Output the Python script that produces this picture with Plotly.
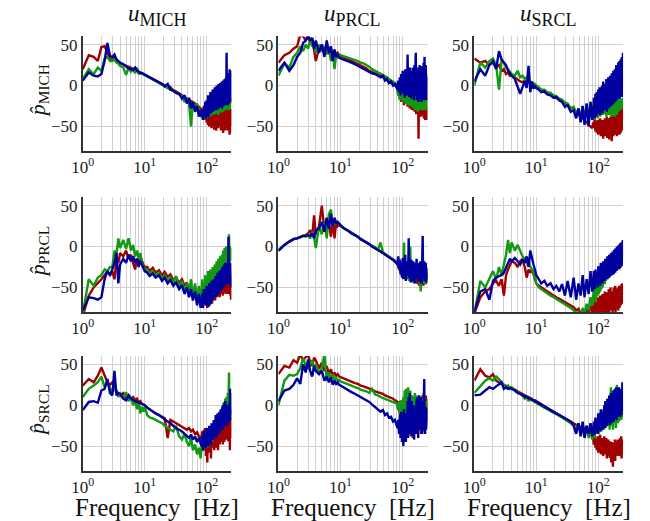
import plotly.graph_objects as go

# frequency grid [Hz]
freq = [1.0, 1.25, 1.5, 1.75, 2.0, 2.25, 2.5, 2.75, 3.0, 3.25, 3.5, 3.75, 4.0, 4.5, 5, 5.5, 6, 6.5, 7, 7.5, 8, 8.5, 9, 9.5, 10,
        11, 12, 13.5, 15, 17, 19, 21, 23.5, 26, 29, 32, 36, 40, 44, 48, 52, 56, 60, 65, 70, 75, 80,
        82.5, 85, 87.5, 90, 92.5, 95, 97.5, 100, 102.5, 105, 107.5, 110, 112.5, 115, 117.5, 120, 122.5,
        125, 127.5, 130, 132.5, 135, 137.5, 140, 142.5, 145, 147.5, 150, 152.5, 155, 157.5, 160, 162.5, 165,
        167.5, 170, 172.5, 175, 177.5, 180, 182.5, 185, 187.5, 190, 192.5, 195, 197.5, 200, 202.5, 205, 207.5,
        210, 212.5, 215, 217.5, 220, 222.5, 225, 227.5, 230, 232.5, 235, 237.5, 240, 242.5, 245, 247.5, 250]

row_labels = ["MICH", "PRCL", "SRCL"]
col_labels = ["MICH", "PRCL", "SRCL"]
x_tick_vals = [1, 10, 100]
x_tick_text = ["10<sup>0</sup>", "10<sup>1</sup>", "10<sup>2</sup>"]
x_minor_vals = [2, 3, 4, 5, 6, 7, 8, 9, 20, 30, 40, 50, 60, 70, 80, 90]
y_tick_vals = [-50, 0, 50]
y_tick_text = ["\u221250", "0", "50"]

# ---------------- row p_MICH ----------------
mich_mich_red = [20,37,35,30,47,48,40,33,31,35,32,28,27,26,24,23,22,20,19,20,17,16,15,15,14,
    12,10,8,6,4,2,0,-3,-2,-6,-7,-10,-12,-14,-16,-17,-19,-20,-22,-24,-26,-28,
    -30,-36,-28,-40,-32,-42,-30,-45,-34,-48,-32,-50,-36,-46,-30,-52,-38,
    -35,-50,-30,-54,-36,-48,-28,-55,-40,-45,-30,-52,-34,-50,-26,-48,-38,
    -32,-55,-28,-50,-36,-45,-24,-58,-34,-50,-22,-46,-40,-55,-30,-48,-25,
    -52,-35,-45,-22,-55,-32,-48,-28,-50,-36,-60,-30,-58,-40,-28,-50,-32]
mich_mich_green = [8,20,14,22,18,33,35,30,30,32,28,27,24,22,13,22,17,20,15,22,14,16,15,14,13,
    11,10,8,6,3,1,-1,-3,-4,-6,-8,-11,-13,-20,-15,-22,-50,-20,-28,-22,-30,-38,
    -35,-40,-30,-42,-28,-38,-32,-40,-26,-38,-30,-36,-24,-38,-28,-35,-22,
    -36,-26,-34,-20,-35,-28,-32,-18,-34,-24,-30,-20,-36,-22,-30,-18,-32,
    -25,-30,-16,-33,-22,-28,-18,-32,-20,-30,-15,-28,-24,-30,-16,-26,-20,
    -30,-14,-28,-22,-26,-12,-30,-18,-24,-15,-28,-20,-26,-14,-22,-18,-15]
mich_mich_blue = [6,16,12,11,14,30,52,36,35,38,32,30,28,26,23,21,20,19,22,18,17,15,15,14,14,
    12,10,8,6,4,2,-1,2,-5,-6,-9,-10,-16,-12,-22,-15,-28,-20,-32,-25,-38,-30,
    -38,-30,-42,-25,-36,-20,-40,-18,-35,-12,-38,-15,-30,-8,-34,-14,-28,
    -5,-32,-10,-28,-2,-30,-12,-25,0,-30,-8,-26,2,-28,-6,-22,3,
    -26,-4,-24,5,-28,-2,-20,6,-25,0,-22,8,-20,2,-24,10,-18,
    40,-20,12,-24,5,-16,15,-22,8,-18,20,-15,12,-20,18,-14,15]

mich_prcl_red = [28,37,40,45,48,62,60,55,60,52,58,40,30,45,50,42,48,38,45,40,42,38,40,37,36,
    34,33,31,30,28,26,24,22,21,18,17,15,13,12,10,9,7,5,4,3,0,-2,
    -5,-12,-2,-16,-4,-20,-3,-18,-8,-24,-6,-15,-10,-22,-5,-26,-8,
    -18,-6,-28,-10,-20,-8,-30,-12,-22,-6,-25,-14,-32,-10,-22,-16,-35,
    -12,-28,-18,-30,-14,-65,-20,-26,-12,-34,-16,-38,-20,-28,-15,-36,-22,
    -28,-18,-35,-22,-40,-20,-30,-25,-42,-22,-32,-26,-40,-24,-30,-42,-28]
mich_prcl_green = [12,27,22,35,40,48,42,50,45,55,48,52,40,50,42,48,38,46,30,42,20,38,35,38,37,
    36,35,34,33,31,30,28,27,25,23,20,18,16,14,13,11,10,8,6,5,3,2,
    -2,-12,0,-18,-4,-15,2,-20,-6,-12,-2,-22,-8,-14,-3,-24,-10,
    -18,-5,-25,-8,-20,-4,-26,-12,-18,-6,-28,-10,-22,-8,-30,-14,-20,
    -10,-26,-12,-32,-16,-22,-10,-30,-18,-24,-12,-28,-20,-25,-14,-30,-18,
    -22,-28,-15,-30,-20,-26,-12,-28,-22,-18,-30,-16,-25,-20,-18,-24,-15]
mich_prcl_blue = [18,28,18,25,35,40,52,55,62,55,58,45,55,40,50,35,55,40,48,30,44,35,38,34,33,
    32,31,29,28,26,24,22,20,19,17,15,14,12,10,12,6,8,3,5,0,2,-2,
    -5,6,-8,10,-12,14,-6,18,-10,12,-15,20,-8,15,-12,38,-10,
    16,-14,22,-8,18,-16,15,-10,22,-12,18,-18,25,-8,20,40,-12,
    15,-18,22,-10,18,-20,12,-8,25,-15,20,-12,24,-20,16,-8,22,
    -14,18,-10,28,-18,22,35,-12,20,-16,25,-10,15,-18,10,-12,-5]

mich_srcl_red = [33,28,30,25,28,22,25,18,20,14,16,12,13,10,8,5,4,6,3,5,2,1,0,-1,-3,
    -4,-6,-8,-10,-12,-13,-15,-18,-19,-21,-24,-27,-28,-32,-35,-38,-40,-42,-45,-48,-50,-52,
    -45,-52,-40,-56,-44,-58,-42,-60,-46,-55,-40,-62,-48,-56,-42,-65,-46,
    -58,-40,-62,-45,-55,-38,-64,-44,-58,-40,-66,-46,-55,-38,-62,-42,-68,
    -44,-58,-36,-62,-42,-55,-34,-60,-40,-58,-30,-56,-38,-62,-32,-55,-28,
    -58,-40,-54,-30,-60,-36,-52,-28,-58,-42,-50,-26,-55,-38,-48,-22,-45]
mich_srcl_green = [0,28,22,30,33,25,-5,30,28,22,20,16,14,12,18,10,12,8,10,6,5,4,3,2,0,
    -2,-5,-5,-8,-9,-12,-13,-16,-17,-21,-22,-28,-26,-35,-28,-40,-25,-45,-22,-42,-20,-38,
    -38,-25,-42,-22,-36,-28,-40,-18,-34,-26,-38,-15,-32,-28,-36,-20,-30,
    -35,-12,-30,-24,-38,-10,-28,-32,-20,-36,-26,-14,-34,-22,-30,-38,-16,
    -32,-22,-35,-18,-30,-26,-38,-20,-28,-34,-14,-30,-22,-36,-18,-28,-25,
    -32,-12,-30,-20,-28,-24,-18,-30,-22,-26,-16,-28,-20,-24,-18,-22,-15]
mich_srcl_blue = [5,20,12,25,30,20,42,32,28,25,18,14,12,8,-2,-10,-2,5,-3,24,-8,5,-4,0,-3,
    -5,-8,-7,-11,-12,-15,-14,-18,-20,-26,-24,-32,-30,-40,-28,-45,-25,-48,-22,-50,-20,-42,
    -35,-15,-40,-10,-38,-8,-35,-5,-32,-2,-36,-8,-30,0,-34,5,-28,
    -4,-30,2,-26,8,-32,4,-24,10,-28,0,-22,12,-26,6,-20,15,
    -24,8,-18,18,-22,10,-16,20,-20,12,-14,25,-18,15,-12,22,-16,
    28,-14,18,-10,30,-16,20,-8,32,-12,25,-10,35,-14,30,-8,40]

# ---------------- row p_PRCL ----------------
prcl_mich_red = [-85,-60,-50,-45,-40,-35,-30,-35,-30,-40,-15,-20,-8,-12,-5,-15,-10,-20,-28,-15,-20,-12,-18,-22,-25,
    -25,-30,-26,-32,-29,-35,-31,-37,-34,-41,-38,-44,-40,-48,-44,-52,-47,-56,-50,-60,-54,-58,
    -62,-50,-70,-55,-65,-48,-72,-58,-75,-50,-68,-45,-72,-55,-62,-42,-70,
    -50,-65,-40,-60,-48,-66,-38,-58,-45,-62,-35,-60,-44,-55,-32,-62,-42,
    -55,-30,-58,-40,-52,-28,-60,-38,-50,-25,-56,-35,-48,-22,-58,-36,-50,
    -24,-55,-38,-46,-20,-58,-32,-50,-26,-55,-40,-48,-22,-60,-35,-65,-50]
prcl_mich_green = [-82,-40,-48,-38,-35,-28,-30,-25,-25,-5,-10,10,-2,8,-3,10,-5,2,-12,-5,-15,-8,-20,-25,-28,
    -28,-33,-30,-36,-32,-39,-35,-42,-38,-45,-36,-50,-42,-55,-45,-58,-40,-62,-45,-65,-48,-66,
    -58,-40,-62,-45,-55,-35,-60,-42,-52,-30,-58,-38,-48,-28,-55,-35,-45,
    -25,-50,-32,-42,-22,-48,-30,-38,-18,-44,-26,-35,-15,-40,-24,-30,-12,
    -36,-20,-28,-10,-34,-18,-25,-5,-30,-15,-22,-2,-28,-12,-20,0,-25,
    -8,-18,-4,-22,-10,-15,2,-20,15,-8,-16,0,-12,-4,-18,-2,-8]
prcl_mich_blue = [-78,-62,-63,-65,-62,-40,-30,-35,-28,-20,-8,-45,-22,-15,-20,-10,-18,-12,-20,-15,-25,-18,-22,-26,-30,
    -32,-36,-33,-38,-35,-42,-38,-45,-41,-48,-44,-52,-47,-58,-50,-62,-52,-66,-55,-72,-58,-75,
    -68,-58,-75,-52,-70,-60,-72,-48,-68,-55,-74,-45,-65,-52,-70,-42,-62,
    -50,-66,-40,-58,-48,-62,-36,-55,-45,-60,-32,-52,-42,-58,-30,-50,-40,
    -55,-28,-48,-38,-52,-25,-46,-35,-50,-22,-44,-32,-48,-20,-42,-30,-45,
    -22,-40,-28,-46,-20,-38,12,-30,-44,-18,-38,-26,-45,-20,-35,-50,-30]

prcl_prcl_red = [-5,2,6,9,10,12,13,14,16,20,12,38,15,25,50,20,35,28,12,30,10,30,25,27,25,
    23,21,19,16,14,12,9,7,5,3,1,-2,-4,-6,-8,-9,-11,-12,-14,-16,-17,-19,
    -20,-26,-18,-30,-22,-28,-20,-34,-24,-32,-22,-38,-26,-30,-24,-40,-28,
    -32,-24,-42,-28,-35,-26,-40,-30,-36,-25,-44,-32,-38,-28,-42,-30,-45,
    -32,-40,-28,-46,-34,-38,-30,-48,-35,-42,-30,-50,-36,-40,-32,-46,-35,
    -42,-30,-48,-36,-40,-28,-45,-38,-42,-32,-46,-35,-40,-30,-44,-36,-45]
prcl_prcl_green = [-5,2,6,9,10,12,13,12,14,10,18,12,-2,25,15,30,10,40,45,25,35,28,30,27,26,
    23,21,19,17,14,12,10,7,5,3,1,-1,-4,5,-7,-9,-11,-12,-14,-16,-18,-20,
    -22,-15,-28,-18,-32,-20,-36,-22,-38,5,-34,-24,-30,-18,-40,-26,-35,
    -22,-42,-20,0,-38,-25,-34,-18,-44,-28,-36,-20,-42,-30,-25,-38,-22,
    -40,-28,-35,-24,-42,-30,-38,-26,-45,-32,-40,-55,-30,-44,-26,-38,-30,
    -42,-25,-36,-30,-45,-22,-40,-32,-28,-46,-35,-30,-42,-26,-38,-32,-35]
prcl_prcl_blue = [-5,2,6,9,10,12,13,13,14,13,16,10,20,22,30,18,35,22,40,25,35,28,30,28,26,
    23,21,19,16,14,12,9,7,5,3,0,-2,-4,-6,-8,-10,-11,-13,-15,-16,-18,-20,
    -22,-12,-28,-16,-34,-20,-38,-14,-40,-24,-35,-10,-42,-22,-36,-18,-30,
    10,-38,-20,-30,-44,-16,-36,-24,-42,-18,-35,-28,-45,-20,-38,-26,-40,
    -15,-36,-28,-22,-42,-30,-20,-38,-26,-44,-18,-40,-30,-24,-45,-28,-35,
    13,-32,-22,-40,-28,-18,-42,-30,-25,-38,-20,-44,-30,-26,-40,-28,-32]

prcl_srcl_red = [-82,-62,-55,-52,-45,-42,-48,-40,-60,-35,-28,-22,-18,-20,-25,-18,-15,-25,-38,-28,-32,-28,-35,-40,-45,
    -48,-50,-52,-55,-58,-60,-62,-64,-66,-68,-70,-72,-74,-78,-76,-82,-78,-85,-75,-82,-72,-80,
    -72,-82,-65,-80,-70,-85,-62,-78,-72,-84,-60,-80,-68,-76,-58,-82,-66,
    -74,-55,-80,-64,-72,-56,-82,-62,-75,-52,-80,-65,-70,-50,-78,-62,-72,
    -55,-80,-60,-70,-50,-78,-64,-68,-48,-80,-58,-72,-52,-75,-60,-66,-50,
    -78,-56,-70,-48,-75,-58,-66,-50,-72,-55,-65,-46,-70,-52,-62,-45,-60]
prcl_srcl_green = [-82,-42,-50,-40,-30,-40,-25,-35,-20,-10,8,-8,5,-5,2,-5,-12,-15,-20,-18,-25,-28,-32,-38,-45,
    -50,-52,-55,-58,-60,-62,-64,-66,-68,-70,-72,-75,-78,-82,-80,-85,-75,-82,-70,-78,-62,-72,
    -62,-52,-68,-48,-64,-45,-60,-50,-58,-40,-55,-46,-52,-36,-50,-42,-45,
    -32,-46,-28,-42,-34,-38,-24,-40,-30,-34,-20,-38,-26,-30,-18,-34,-22,
    -28,-14,-30,-18,-24,-10,-28,-15,-20,-6,-24,-12,-18,-4,-22,-10,-15,
    0,-18,-8,-14,-2,-16,-6,-12,2,-15,-8,-10,3,-14,-6,-12,-5]
prcl_srcl_blue = [-80,-55,-52,-65,-42,-38,-36,-35,-32,-25,-20,-15,-18,-14,-18,-22,-16,-20,-12,-25,-5,-15,-22,-28,-35,
    -40,-45,-42,-48,-45,-52,-48,-55,-46,-60,-42,-62,-38,-65,-45,-60,-35,-62,-40,-58,-30,-55,
    -48,-30,-52,-28,-46,-32,-50,-24,-44,-30,-48,-20,-42,-26,-45,-18,-40,
    -25,-42,-15,-38,-22,-40,-12,-36,-20,-38,-10,-34,-18,-36,-8,-32,-15,
    -35,-6,-30,-12,-34,-4,-28,-10,-32,-2,-26,-8,-30,0,-25,-6,-28,
    -3,-24,2,-28,-5,-22,4,-26,-2,-20,5,-24,0,-18,6,-15,8]

# ---------------- row p_SRCL ----------------
srcl_mich_red = [24,32,28,36,46,36,28,25,28,20,16,14,12,15,10,12,8,10,6,8,4,5,2,1,0,
    -3,-5,-8,-10,-12,-14,-16,-40,-18,-20,-22,-24,-26,-28,-30,-28,-32,-30,-35,-33,-38,-40,
    -40,-32,-48,-30,-55,-28,-62,-35,-70,-30,-58,-26,-50,-38,-65,-25,-52,
    -35,-48,-24,-55,-30,-45,-20,-52,-32,-42,-18,-55,-28,-40,-15,-48,-30,
    -38,-14,-45,-26,-35,-12,-48,-28,-32,-10,-45,-22,-38,-8,-42,-25,-30,
    -10,-40,-20,-35,-8,-44,-28,-38,-12,-40,-25,-55,-18,-48,-30,-15,-40]
srcl_mich_green = [10,20,24,28,35,22,28,20,15,22,18,10,14,8,16,5,10,0,6,-5,4,-10,-2,-8,-2,
    -12,-15,-16,-18,-20,-22,-25,-28,-30,-32,-25,-38,-42,-35,-45,-50,-40,-55,-48,-60,-52,-65,
    -52,-40,-56,-36,-50,-42,-48,-32,-52,-38,-45,-28,-48,-34,-42,-25,-45,
    -30,-40,-22,-38,-28,-34,-18,-36,-24,-30,-14,-32,-20,-26,-10,-28,-16,
    -22,-5,-25,-12,-18,0,-22,-8,-15,4,-20,-5,-12,8,-18,-2,-10,
    10,-15,2,-8,15,-12,5,-10,40,-6,12,-14,8,-10,15,-12,5]
srcl_mich_blue = [-6,4,5,3,18,20,32,15,12,42,12,15,14,8,6,12,8,6,5,4,3,2,1,1,0,
    -3,-5,-8,-10,-12,-15,-18,-20,-22,-25,-28,-30,-32,-35,-38,-40,-36,-42,-38,-45,-40,-48,
    -50,-38,-55,-32,-48,-40,-52,-28,-46,-35,-50,-25,-44,-30,-48,-22,-40,
    -28,-42,-18,-38,-25,-35,-12,-40,-22,-30,-10,-36,-20,-28,-8,-34,-15,
    -30,-5,-28,-14,-25,-2,-30,-10,-22,2,-26,-8,-20,5,-24,-6,-18,
    0,-25,-10,-20,-2,-22,-8,-15,2,-20,-5,-12,20,-18,-6,-15,-5]

srcl_prcl_red = [38,48,46,55,52,62,55,58,62,52,48,58,55,45,52,42,48,38,44,36,40,36,38,35,34,
    33,32,30,29,27,26,24,23,22,20,19,17,16,15,14,12,11,10,9,8,6,5,
    2,-6,5,-12,3,-18,6,-22,0,-28,8,-15,4,-25,10,-20,5,
    -32,8,-35,2,-38,10,-28,5,-40,0,-22,8,-30,-5,-18,10,-25,
    2,-35,-8,5,-22,12,-30,0,-18,10,-28,5,-35,-8,8,-20,12,
    -30,0,-18,15,-25,5,-12,10,-22,0,-15,12,-28,2,-20,8,0]
srcl_prcl_green = [0,30,37,36,38,45,58,48,45,50,55,45,50,40,45,62,30,40,32,38,30,33,30,31,29,
    28,27,25,24,22,21,19,18,17,15,20,13,12,10,9,8,7,6,5,4,3,2,
    0,-6,4,-10,6,-15,2,-8,10,-12,18,-5,20,-10,15,0,22,
    -8,15,-12,18,-5,10,-15,12,-2,5,-18,10,-8,15,-12,0,-20,
    8,-5,12,-15,5,-10,10,-18,0,8,-20,3,-12,6,-8,10,-15,
    -5,8,-10,5,-15,0,-8,10,-12,-2,-15,5,-10,2,-8,0,-5]
srcl_prcl_blue = [5,18,20,25,33,26,50,40,56,42,35,48,42,38,42,30,35,28,34,25,30,26,28,25,24,
    22,20,18,16,14,12,10,8,6,4,1,-2,-5,-8,-6,-12,-10,-15,-14,-20,-18,-25,
    -28,-18,-35,-12,-40,-8,-45,-15,-50,-5,-38,-22,-45,-10,-30,5,-40,
    10,-28,15,-35,-8,-25,5,-38,-15,-30,0,-42,-18,-10,-35,-5,-25,
    8,-30,-15,10,-40,-8,-22,12,-30,-5,-18,10,-28,-20,5,-35,-10,
    -25,0,-30,-10,-20,32,-30,-12,-35,-2,-22,-8,-30,-4,-20,-12,-10]

srcl_srcl_red = [30,44,36,34,38,30,28,27,25,24,23,22,21,19,17,15,14,12,11,10,9,8,6,6,5,
    3,1,-1,-3,-6,-8,-10,-12,-14,-16,-18,-20,-22,-24,-25,-26,-27,-28,-30,-32,-35,-38,
    -40,-48,-36,-52,-42,-55,-38,-58,-44,-50,-36,-60,-45,-52,-40,-62,-46,
    -38,-55,-45,-60,-40,-65,-48,-52,-42,-58,-50,-64,-44,-56,-48,-70,-45,
    -60,-50,-75,-46,-58,-52,-62,-42,-68,-48,-56,-44,-62,-50,-55,-42,-60,
    -48,-58,-45,-62,-50,-56,-40,-60,-48,-54,-38,-65,-46,-58,-42,-55,-48]
srcl_srcl_green = [15,24,30,33,30,35,32,28,25,22,24,20,22,18,16,14,12,8,10,5,8,6,5,4,3,
    1,-1,-3,-5,-7,-9,-11,-13,-15,-17,-19,-22,-25,-30,-22,-35,-28,-38,-25,-40,-30,-42,
    -36,-22,-40,-18,-34,-25,-30,-12,-35,-20,-28,-8,-32,-15,-25,-5,-30,
    -10,-25,2,-28,-5,-20,8,-26,0,-22,10,-30,-2,-18,22,-20,5,
    -25,15,-30,8,-12,18,-22,2,-15,20,-28,-5,-18,25,-10,12,-22,
    15,-15,22,-20,8,-12,18,-10,-5,10,-18,5,-12,10,-15,0,-10]
srcl_srcl_blue = [12,13,18,22,20,23,26,28,20,22,20,21,20,18,15,14,12,11,10,9,8,7,6,5,4,
    2,0,-2,-4,-6,-8,-10,-12,-14,-16,-18,-20,-25,-35,-22,-38,-20,-40,-25,-35,-22,-38,
    -32,-20,-36,-15,-30,-22,-35,-10,-28,-18,-32,-5,-26,-15,-30,-8,-24,
    0,-28,5,-22,-2,-25,8,-18,-5,-20,12,-24,2,-16,15,-22,5,
    -18,10,-15,18,-20,5,-12,20,-16,8,-10,22,-18,12,-8,20,-14,
    5,-10,22,-12,15,-8,20,-14,10,-6,18,-12,22,-5,28,-8,0]

panels = [
    [(mich_mich_red, mich_mich_green, mich_mich_blue),
     (mich_prcl_red, mich_prcl_green, mich_prcl_blue),
     (mich_srcl_red, mich_srcl_green, mich_srcl_blue)],
    [(prcl_mich_red, prcl_mich_green, prcl_mich_blue),
     (prcl_prcl_red, prcl_prcl_green, prcl_prcl_blue),
     (prcl_srcl_red, prcl_srcl_green, prcl_srcl_blue)],
    [(srcl_mich_red, srcl_mich_green, srcl_mich_blue),
     (srcl_prcl_red, srcl_prcl_green, srcl_prcl_blue),
     (srcl_srcl_red, srcl_srcl_green, srcl_srcl_blue)],
]
for row in panels:
    for trio in row:
        for s in trio:
            assert len(s) == len(freq), len(s)

colors = ["#a00000", "#119a11", "#0000a0"]
W, H = 650, 521
FONT = "Liberation Serif, Times New Roman, serif"
grid_col = "#cfcfcf"
axis_col = "#333333"

DX = -8  # horizontal correction
xpix = [(81 + DX, 232.2 + DX), (280 + DX, 431.7 + DX), (479.3 + DX, 630.6 + DX)]
ypix = [(35.5, 150.3), (196.8, 311.6), (355.8, 470.6)]

fig = go.Figure()
layout = {}
for r in range(3):
    for c in range(3):
        i = r * 3 + c + 1
        xa = "x" if i == 1 else f"x{i}"
        ya = "y" if i == 1 else f"y{i}"
        for s, col in zip(panels[r][c], colors):
            fig.add_trace(go.Scatter(x=freq, y=s, mode="lines",
                                     line=dict(color=col, width=2.4),
                                     xaxis=xa, yaxis=ya, showlegend=False,
                                     hoverinfo="skip"))
        xk = "xaxis" if i == 1 else f"xaxis{i}"
        yk = "yaxis" if i == 1 else f"yaxis{i}"
        layout[xk] = dict(
            type="log", range=[0, 2.4],
            domain=[xpix[c][0] / W, xpix[c][1] / W], anchor=ya,
            tickmode="array", tickvals=x_tick_vals, ticktext=x_tick_text,
            ticks="", showgrid=True, gridcolor=grid_col, gridwidth=1.3,
            minor=dict(tickmode="array", tickvals=x_minor_vals, showgrid=True,
                       gridcolor=grid_col, gridwidth=1.3, ticks=""),
            showline=True, linecolor=axis_col, linewidth=1.6, zeroline=False,
            tickfont=dict(family=FONT, size=17, color="#222"),
        )
        layout[yk] = dict(
            range=[-80, 60],
            domain=[1 - ypix[r][1] / H, 1 - ypix[r][0] / H], anchor=xa,
            tickmode="array", tickvals=y_tick_vals, ticktext=y_tick_text,
            ticks="", showgrid=True, gridcolor=grid_col, gridwidth=1.3,
            showline=True, linecolor=axis_col, linewidth=1.6, zeroline=False,
            tickfont=dict(family=FONT, size=17, color="#222"),
        )

annotations = []
for c in range(3):
    cx = (xpix[c][0] + xpix[c][1]) / 2
    annotations.append(dict(
        text=f"<i>u</i><sub><span style='font-size:18px'>{col_labels[c]}</span></sub>",
        x=cx / W, y=1 - 15 / H,
        xref="paper", yref="paper", xanchor="center", yanchor="middle",
        showarrow=False, font=dict(family=FONT, size=23, color="#111")))
    annotations.append(dict(
        text="Frequency  [Hz]", x=cx / W, y=1 - 507 / H,
        xref="paper", yref="paper", xanchor="center", yanchor="middle",
        showarrow=False, font=dict(family=FONT, size=25, color="#111")))
for r in range(3):
    cy = (ypix[r][0] + ypix[r][1]) / 2 - 3
    annotations.append(dict(
        text=f"<i>p\u0302</i><sub>{row_labels[r]}</sub>", x=(36 + DX) / W, y=1 - cy / H,
        xref="paper", yref="paper", xanchor="center", yanchor="middle",
        textangle=-90, showarrow=False, font=dict(family=FONT, size=22, color="#111")))

fig.update_layout(
    width=W, height=H, autosize=False,
    margin=dict(l=0, r=0, t=0, b=0),
    paper_bgcolor="white", plot_bgcolor="white",
    annotations=annotations, **layout,
)
fig.write_html("out.html")
